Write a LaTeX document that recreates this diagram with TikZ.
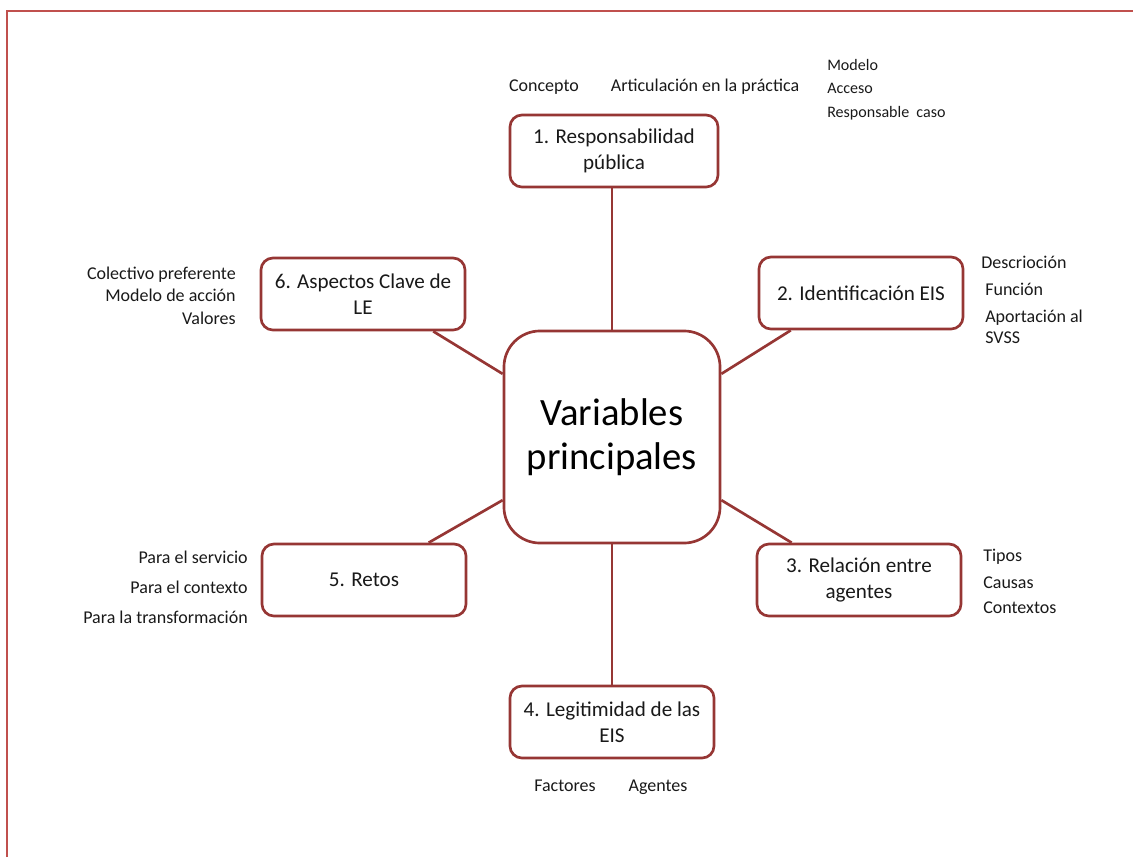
\documentclass[tikz,border=0pt]{standalone}
\usepackage{fontspec}
\setmainfont{Carlito}
\definecolor{boxred}{RGB}{150,54,52}
\definecolor{framered}{RGB}{192,80,77}

\begin{document}
\begin{tikzpicture}[
  x=0.025cm, y=-0.025cm,
  topic/.style={rectangle, draw=boxred, line width=1.9pt, rounded corners=0.3cm, fill=white, minimum width=5.1cm, minimum height=1.8cm, align=center, font=\fontsize{15}{18.5}\selectfont, text=black!90, inner sep=2pt},
  hub/.style={rectangle, draw=boxred, line width=1.9pt, rounded corners=0.9cm, fill=white, minimum width=5.4cm, minimum height=5.3cm, align=center, font=\fontsize{27.5}{31}\selectfont},
  item/.style={font=\fontsize{12.8}{15}\selectfont, text=black!90, inner sep=0pt},
  smallitem/.style={item, font=\fontsize{11.4}{14}\selectfont},
  link/.style={draw=boxred, line width=1.9pt},
  frame/.style={draw=framered, line width=1.9pt}
]
  \useasboundingbox (0,0) rectangle (1133,857);
  \draw[frame] (7,857) -- (7,11) -- (1133,11);

  % links first, boxes drawn over them
  \node[hub] (main) at (612,437) {Variables\\principales};
  \node[topic, minimum width=5.2cm] (resp) at (614,151) {1. Responsabilidad\\pública};
  \node[topic] (ident) at (861,293) {2. Identificación EIS};
  \node[topic] (rel) at (859,580) {3. Relación entre\\agentes};
  \node[topic] (legit) at (612,722) {4. Legitimidad de las\\EIS};
  \node[topic] (retos) at (364,580) {5. Retos};
  \node[topic] (clave) at (363,294) {6. Aspectos Clave de\\LE};

  \draw[link] (resp.south -| main.north) -- (main.north);
  \draw[link] (ident.208) -- (main.30);
  \draw[link] (rel.151) -- (main.-30);
  \draw[link] (main.south) -- (legit.north -| main.south);
  \draw[link] (retos.30) -- (main.210);
  \draw[link] (clave.-28) -- (main.150);

  % 1.
  \node[item, anchor=base] (concepto) at (544,91) {Concepto};
  \node[item, anchor=base] (artic) at (705,91) {Articulación en la práctica};
  \node[smallitem, anchor=base west] (modelo) at (827,70) {Modelo};
  \node[smallitem, anchor=base west] (acceso) at (827,93) {Acceso};
  \node[smallitem, anchor=base west] (respcaso) at (827,117) {Responsable\ \ caso};
  % 2.
  \node[item, anchor=base west] (descr) at (981,268) {Descrioción};
  \node[item, anchor=base west] (funcion) at (985,295) {Función};
  \node[item, anchor=base west] (aport) at (985,322) {Aportación al};
  \node[item, anchor=base west] (svss) at (985,343) {SVSS};
  % 3.
  \node[item, anchor=base west] (tipos) at (983,561) {Tipos};
  \node[item, anchor=base west] (causas) at (983,588) {Causas};
  \node[item, anchor=base west] (contextos) at (983,613) {Contextos};
  % 4.
  \node[item, anchor=base] (factores) at (565,791) {Factores};
  \node[item, anchor=base] (agentes) at (658,791) {Agentes};
  % 5.
  \node[item, anchor=base east] (servicio) at (248,563) {Para el servicio};
  \node[item, anchor=base east] (contexto) at (248,593) {Para el contexto};
  \node[item, anchor=base east] (transf) at (248,623) {Para la transformación};
  % 6.
  \node[item, anchor=base east] (colectivo) at (236,279) {Colectivo preferente};
  \node[item, anchor=base east] (modaccion) at (236,301) {Modelo de acción};
  \node[item, anchor=base east] (valores) at (236,324) {Valores};
\end{tikzpicture}
\end{document}
